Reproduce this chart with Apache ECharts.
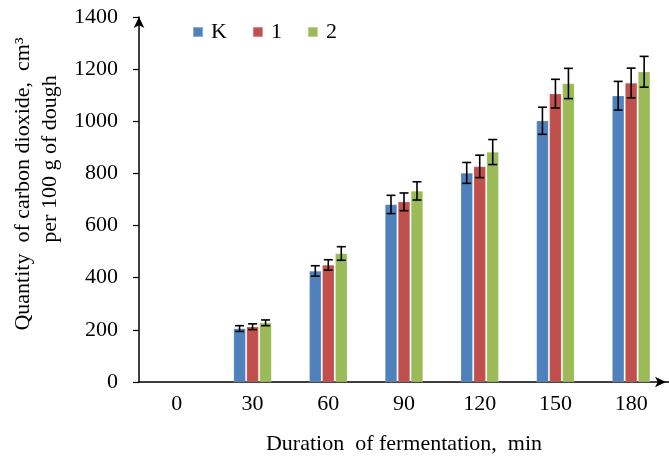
<!DOCTYPE html>
<html>
<head>
<meta charset="utf-8">
<script src="https://cdn.jsdelivr.net/npm/echarts@6/dist/echarts.min.js"></script>
<style>html,body{margin:0;padding:0;background:#fff}#c{width:669px;height:460px}</style>
</head>
<body>
<div id="c"></div>
<script>
var categories = ['0', '30', '60', '90', '120', '150', '180'];
var seriesNames = ['K', '1', '2'];
var valuesK = ['-', 205, 426, 681, 802, 1002, 1098];
var values1 = ['-', 212, 449, 691, 827, 1106, 1147];
var values2 = ['-', 227, 493, 733, 882, 1145, 1190];
var errK = [0, 11, 20, 35, 40, 52, 55];
var err1 = [0, 11, 20, 34, 43, 55, 57];
var err2 = [0, 11, 26, 35, 48, 58, 59];
var yTicks = [0, 200, 400, 600, 800, 1000, 1200, 1400];
var colors = ['#4F81BD', '#C0504D', '#9BBB59'];

var FONT = '"Liberation Serif", "Times New Roman", serif';
var FS = 22;
var BAR_W = 12;
var STRIDE = 13;
var allValues = [valuesK, values1, values2];
var allErr = [errK, err1, err2];

var chart = echarts.init(document.getElementById('c'), null, {renderer: 'canvas'});

function errSeries(si) {
  var data = [];
  for (var i = 0; i < categories.length; i++) {
    var v = allValues[si][i];
    if (v === '-') continue;
    data.push([i, v - allErr[si][i], v + allErr[si][i]]);
  }
  var offset = (si - 1) * STRIDE;
  return {
    type: 'custom',
    name: seriesNames[si] + '_err',
    z: 10,
    silent: true,
    data: data,
    encode: {x: 0, y: [1, 2]},
    renderItem: function (params, api) {
      var lo = api.coord([api.value(0), api.value(1)]);
      var hi = api.coord([api.value(0), api.value(2)]);
      var x = lo[0] + offset;
      var hw = 4.5;
      var st = {stroke: '#000', lineWidth: 1.6};
      return {
        type: 'group',
        children: [
          {type: 'line', shape: {x1: x, y1: lo[1], x2: x, y2: hi[1]}, style: st},
          {type: 'line', shape: {x1: x - hw, y1: lo[1], x2: x + hw, y2: lo[1]}, style: st},
          {type: 'line', shape: {x1: x - hw, y1: hi[1], x2: x + hw, y2: hi[1]}, style: st}
        ]
      };
    }
  };
}

var series = [];
for (var s = 0; s < 3; s++) {
  series.push({
    type: 'bar',
    name: seriesNames[s],
    data: allValues[s],
    barWidth: BAR_W,
    barGap: '8%',
    itemStyle: {color: colors[s], borderColor: 'rgba(255,255,255,0.35)', borderWidth: 0.5}
  });
}
for (var s2 = 0; s2 < 3; s2++) series.push(errSeries(s2));

chart.setOption({
  animation: false,
  color: colors,
  textStyle: {fontFamily: FONT},
  grid: {left: 139, top: 17, bottom: 77.5, width: 533, containLabel: false},
  legend: {
    data: seriesNames,
    left: 187,
    top: 16,
    itemWidth: 10,
    itemHeight: 10,
    itemGap: 25,
    icon: 'rect',
    textStyle: {fontFamily: FONT, fontSize: FS, color: '#000', padding: [0, 0, 0, 3]}
  },
  xAxis: {
    type: 'category',
    data: categories,
    name: 'Duration  of fermentation,  min',
    nameLocation: 'middle',
    nameGap: 51,
    nameTextStyle: {fontFamily: FONT, fontSize: FS, color: '#000'},
    axisLine: {lineStyle: {color: '#000', width: 1.5}, symbol: ['none', 'arrow'], symbolSize: [8, 11], symbolOffset: [0, -3]},
    axisTick: {show: false},
    axisLabel: {fontFamily: FONT, fontSize: FS, color: '#000', margin: 11}
  },
  yAxis: {
    type: 'value',
    min: yTicks[0],
    max: yTicks[yTicks.length - 1],
    interval: 200,
    axisLine: {show: true, lineStyle: {color: '#000', width: 1.5}, symbol: ['none', 'arrow'], symbolSize: [8, 11]},
    axisTick: {show: true, inside: false, length: 6, lineStyle: {color: '#000', width: 1.2}},
    splitLine: {show: false},
    axisLabel: {fontFamily: FONT, fontSize: FS, color: '#000', margin: 21,
      formatter: function (v) { return String(v); }}
  },
  graphic: [
    {type: 'text', x: 23, y: 184, rotation: Math.PI / 2,
     style: {text: 'Quantity  of carbon dioxide,  cm³', font: FS + 'px ' + FONT, fill: '#000', align: 'center', verticalAlign: 'middle'}},
    {type: 'text', x: 50, y: 159, rotation: Math.PI / 2,
     style: {text: 'per 100 g of dough', font: FS + 'px ' + FONT, fill: '#000', align: 'center', verticalAlign: 'middle'}}
  ],
  series: series
});
</script>
</body>
</html>
